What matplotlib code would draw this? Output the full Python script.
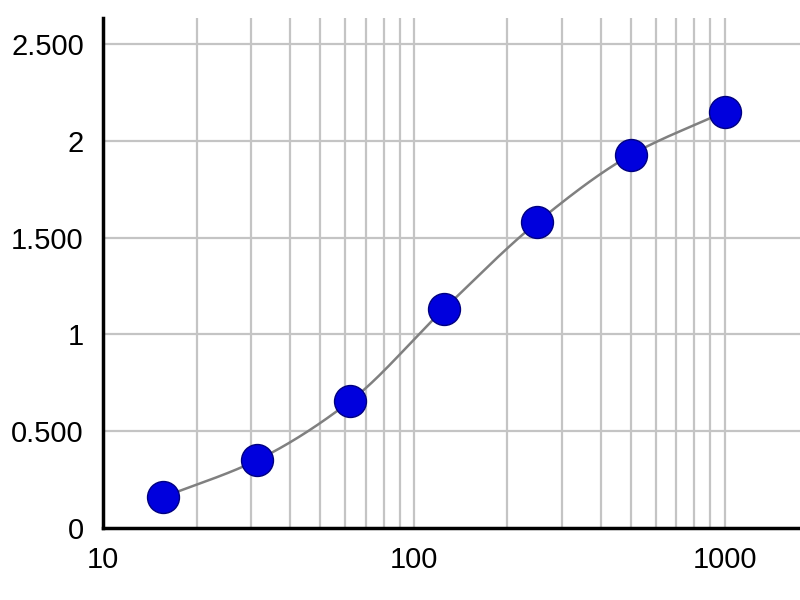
import numpy as np
import matplotlib
matplotlib.use("Agg")
import matplotlib.pyplot as plt
from matplotlib.ticker import FixedLocator

# concentration (log axis) and measured signal
conc = [15.625, 31.25, 62.5, 125, 250, 500, 1000]
signal = [0.16, 0.35, 0.656, 1.131, 1.58, 1.927, 2.149]

x_ticks = [10, 100, 1000]
x_tick_labels = ["10", "100", "1000"]
y_ticks = [0, 0.5, 1, 1.5, 2, 2.5]
y_tick_labels = ["0", "0.500", "1", "1.500", "2", "2.500"]


def pchip(x, y, xn):
    # monotone cubic through the points (for the smooth fitted-looking curve)
    x = np.asarray(x, float)
    y = np.asarray(y, float)
    h = np.diff(x)
    d = np.diff(y) / h
    m = np.zeros_like(y)
    for k in range(1, len(x) - 1):
        if d[k - 1] * d[k] > 0:
            w1 = 2 * h[k] + h[k - 1]
            w2 = h[k] + 2 * h[k - 1]
            m[k] = (w1 + w2) / (w1 / d[k - 1] + w2 / d[k])
    m[0] = d[0]
    m[-1] = d[-1]
    idx = np.clip(np.searchsorted(x, xn) - 1, 0, len(x) - 2)
    t = (xn - x[idx]) / h[idx]
    h00 = 2 * t**3 - 3 * t**2 + 1
    h10 = t**3 - 2 * t**2 + t
    h01 = -2 * t**3 + 3 * t**2
    h11 = t**3 - t**2
    return h00 * y[idx] + h10 * h[idx] * m[idx] + h01 * y[idx + 1] + h11 * h[idx] * m[idx + 1]


plt.rcParams['font.family'] = ['Liberation Sans', 'DejaVu Sans']

fig = plt.figure(figsize=(8, 6), dpi=100)
ax = fig.add_axes([0.129, 0.12, 0.871, 0.85])

ax.set_xscale("log")
ax.set_xlim(10, 1750)
ax.set_ylim(0, 2.634)

# vertical grid only up to 1000
vgrid = [v * d for d in (10, 100) for v in range(2, 11)]
for v in vgrid:
    ax.axvline(v, color="#c4c4c4", lw=1.6, zorder=0)
for v in y_ticks[1:]:
    ax.axhline(v, color="#c4c4c4", lw=1.6, zorder=0)

lx = np.log10(conc)
xs = np.linspace(lx[0], lx[-1], 300)
ax.plot(10**xs, pchip(lx, signal, xs), color="#808080", lw=1.8, zorder=2)
ax.plot(conc, signal, "o", ms=23, mfc="#0000dd", mec="#000080", mew=1.0, zorder=3)

ax.xaxis.set_major_locator(FixedLocator(x_ticks))
ax.xaxis.set_minor_locator(FixedLocator([]))
ax.set_xticks(x_ticks)
ax.set_xticklabels(x_tick_labels)
ax.set_yticks(y_ticks)
ax.set_yticklabels(y_tick_labels)
ax.tick_params(axis="both", length=0, labelsize=21)
ax.tick_params(axis="x", pad=13)
ax.tick_params(axis="y", pad=14)

for s in ("top", "right"):
    ax.spines[s].set_visible(False)
for s in ("left", "bottom"):
    ax.spines[s].set_linewidth(2.5)
    ax.spines[s].set_color("black")

fig.savefig("out.png", dpi=100)
